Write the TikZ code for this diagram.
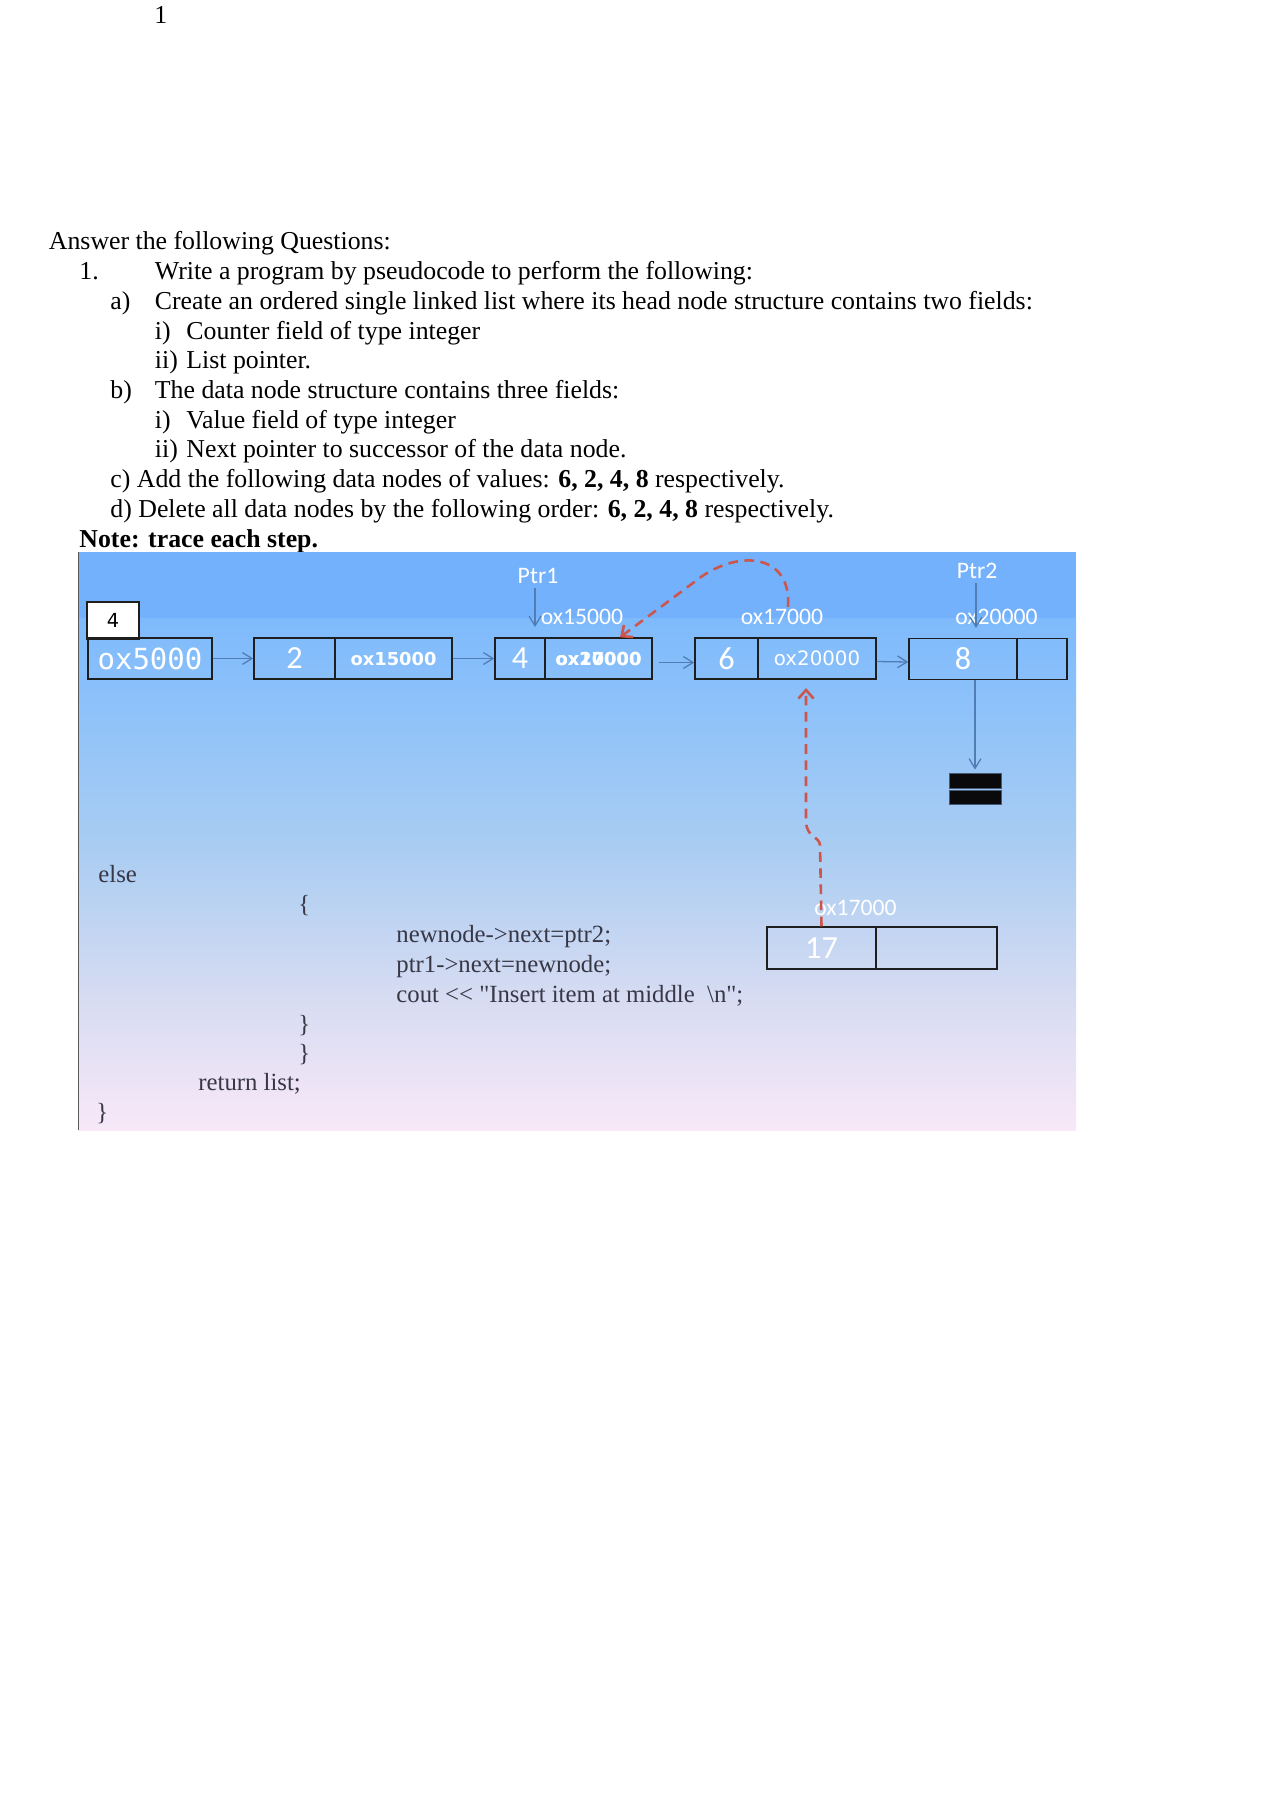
\documentclass[tikz,border=0pt]{standalone}
\usepackage{fontspec}
\setmainfont{Liberation Serif}
\newfontfamily\codefont{Liberation Serif}[Ligatures=TeXOff]
\newfontfamily\lblfont{Carlito}
\newfontfamily\dvs{DejaVu Sans}
\newfontfamily\dvm{DejaVu Sans Mono}
\usetikzlibrary{arrows.meta}
\newcommand\pxu{0.465pt}
\definecolor{bandtop}{RGB}{115,177,252}
\definecolor{gA}{RGB}{126,186,252}
\definecolor{gB}{RGB}{140,193,250}
\definecolor{gC}{RGB}{170,205,242}
\definecolor{gD}{RGB}{215,220,242}
\definecolor{gE}{RGB}{248,232,248}
\definecolor{boxc}{RGB}{30,30,30}
\definecolor{arrc}{RGB}{80,125,180}
\definecolor{redc}{RGB}{205,85,75}
\definecolor{codec}{RGB}{55,55,70}
\definecolor{edgec}{RGB}{90,90,90}
\definecolor{blkedge}{RGB}{70,90,120}
\definecolor{blkfill}{RGB}{10,10,12}
\pgfdeclareverticalshading{panelsh}{100bp}{color(0bp)=(gE); color(25bp)=(gE); color(37.75bp)=(gD); color(52.45bp)=(gC); color(67.2bp)=(gB); color(75bp)=(gA); color(100bp)=(gA)}
\begin{document}
\begin{tikzpicture}[x=\pxu, y=-\pxu,
  txt/.style={anchor=base west, inner sep=0pt, font=\fontsize{12}{14}\selectfont},
  code/.style={anchor=base west, inner sep=0pt, text=codec, font=\codefont\fontsize{11.5}{13}\selectfont},
  cell/.style={draw=boxc, line width=0.65pt, inner sep=0pt, minimum height=41*\pxu, text=white},
  valf/.style={font=\lblfont\fontsize{15}{16}\selectfont},
  ptrb/.style={font=\dvs\bfseries\fontsize{8.3}{9}\selectfont},
  ptrr/.style={font=\dvs\fontsize{9.2}{10}\selectfont},
  lbl/.style={text=white, inner sep=0pt, font=\lblfont\fontsize{11}{12}\selectfont},
  blk/.style={draw=blkedge, fill=blkfill, line width=0.4pt, minimum width=52*\pxu, inner sep=0pt},
  barrow/.style={draw=arrc, line width=0.6pt, -{Straight Barb[length=4.5pt,width=5.5pt]}},
  rdash/.style={draw=redc, line width=1.2pt, dash pattern=on 4.5pt off 3pt, -{Straight Barb[length=4pt,width=7pt]}}
]
\useasboundingbox (0,0) rectangle (1280,1811);
\fill[white] (0,0) rectangle (1280,1811);

% page number
\node[anchor=base, inner sep=0pt, font=\fontsize{12}{14}\selectfont] (pg) at (160.7,24) {1};

% question text
\node[txt] (q0) at (48.5,249.5) {Answer the following Questions:};
\node[txt] (q1n) at (79,279.5) {1.};
\node[txt] (q1) at (154.5,279.5) {Write a program by pseudocode to perform the following:};
\node[txt] (qan) at (110,309.5) {a)};
\node[txt] (qa) at (154.5,309.5) {Create an ordered single linked list where its head node structure contains two fields:};
\node[txt] (qa1n) at (154.5,339.5) {i)};
\node[txt] (qa1) at (186,339.5) {Counter field of type integer};
\node[txt] (qa2n) at (154.5,368.5) {ii)};
\node[txt] (qa2) at (186,368.5) {List pointer.};
\node[txt] (qbn) at (110,398.5) {b)};
\node[txt] (qb) at (154.5,398.5) {The data node structure contains three fields:};
\node[txt] (qb1n) at (154.5,428.5) {i)};
\node[txt] (qb1) at (186,428.5) {Value field of type integer};
\node[txt] (qb2n) at (154.5,457.5) {ii)};
\node[txt] (qb2) at (186,457.5) {Next pointer to successor of the data node.};
\node[txt] (qc) at (110,487.5) {c) Add the following data nodes of values: \textbf{6, 2, 4, 8} respectively.};
\node[txt] (qd) at (110,517.5) {d) Delete all data nodes by the following order: \textbf{6, 2, 4, 8} respectively.};
\node[txt] (qn) at (79,547.5) {\textbf{Note: trace each step.}};

% panel
\fill[bandtop] (78,552) rectangle (1076,618);
\shade[shading=panelsh] (78,618) rectangle (1076,1130);
\draw[edgec, line width=0.9pt] (78.5,552) -- (78.5,1130);

% head node
\node[cell, fill=white, text=black, line width=0.9pt, minimum width=52*\pxu, minimum height=37*\pxu, font=\dvs\fontsize{9}{10}\selectfont] (cnt) at (113,620.5) {4};
\node[cell, minimum width=124*\pxu, font=\dvm\fontsize{13.5}{14}\selectfont] (hd) at (150,658.5) {ox5000};

% data nodes
\node[cell, valf, minimum width=81*\pxu] (n2v) at (294.5,658.5) {2};
\node[cell, ptrb, minimum width=117*\pxu] (n2p) at (393.5,658.5) {ox15000};
\node[cell, valf, minimum width=50*\pxu] (n4v) at (520,658.5) {4};
\node[cell, ptrb, minimum width=107*\pxu] (n4p) at (598.5,658.5) {\rlap{ox17000}ox20000};
\node[cell, valf, minimum width=63*\pxu] (n6v) at (726.5,658.5) {6};
\node[cell, ptrr, minimum width=118*\pxu] (n6p) at (817,658.5) {ox20000};
\node[cell, valf, minimum width=108*\pxu] (n8v) at (963,659) {8};
\node[cell, minimum width=50*\pxu] (n8p) at (1042,659) {};
\node[cell, valf, minimum width=109*\pxu, minimum height=42*\pxu] (n17v) at (821.5,948) {17};
\node[cell, minimum width=121*\pxu, minimum height=42*\pxu] (n17p) at (936.5,948) {};

% labels
\node[lbl] (ptr1) at (538,576) {Ptr1};
\node[lbl] (a15) at (582,617) {ox15000};
\node[lbl] (a17) at (782,617) {ox17000};
\node[lbl] (ptr2) at (977,571) {Ptr2};
\node[lbl] (a20) at (996.5,617) {ox20000};
\node[lbl] (a17b) at (855.5,908) {ox17000};

% null block
\node[blk, minimum height=15*\pxu] (blk1) at (975,780.5) {};
\node[blk, minimum height=14*\pxu] (blk2) at (975,797) {};

% blue arrows
\draw[barrow] (hd.east) -- (n2v.west);
\draw[barrow] (n2p.east) -- (n4v.west);
\draw[barrow, shorten <=6*\pxu] ([yshift=-4*\pxu]n4p.east) -- ([yshift=-4*\pxu]n6v.west);
\draw[barrow] ([yshift=-3*\pxu]n6p.east) -- ([yshift=-3*\pxu]n8v.west);
\coordinate (p1e) at (535,627);
\draw[barrow, shorten <=4*\pxu] (ptr1.south -| p1e) -- (p1e);
\coordinate (p2e) at (976,628);
\draw[barrow, shorten <=4*\pxu] (ptr2.south -| p2e) -- (p2e);
\draw[barrow, shorten >=3*\pxu] (n8v.south -| blk1.north) -- (blk1.north);

% red dashed connectors
\coordinate (tA) at (806,688);
\draw[rdash] (n17v.north) -- (820,845) .. controls (819,836) and (807,838) .. (806,822) -- (tA);
\coordinate (tB) at ([xshift=21.5*\pxu]n4p.north);
\draw[rdash] ([xshift=6*\pxu,yshift=2*\pxu]a17.north) .. controls (792,552) and (735,548) .. (693,583) -- (tB);

% code text
\node[code] (c1) at (98,882) {else};
\node[code] (c2) at (298,912) {\{};
\node[code] (c3) at (396,942) {newnode->next=ptr2;};
\node[code] (c4) at (396,972) {ptr1->next=newnode;};
\node[code] (c5) at (396,1002) {cout << "Insert item at middle\ \ \textbackslash n";};
\node[code] (c6) at (298,1032) {\}};
\node[code] (c7) at (298,1061) {\}};
\node[code] (c8) at (198,1090) {return list;};
\node[code] (c9) at (96,1120) {\}};
\end{tikzpicture}
\end{document}
